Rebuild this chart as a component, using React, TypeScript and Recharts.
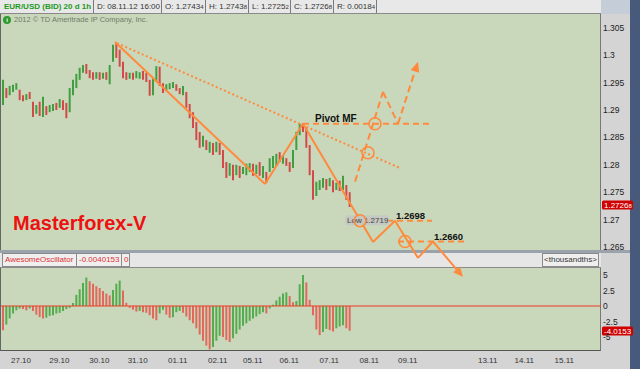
import React from 'react';
import { ComposedChart, Bar, Cell, XAxis, YAxis, ReferenceLine, ReferenceDot } from 'recharts';

const FONT = '"Liberation Sans", Arial, Helvetica, sans-serif';
const PANEL = '#c9d8bb';
const GREY = '#d4d4d4';
const ORANGE = '#ff8a3d';
const UP = '#3f9e3f';
const DOWN = '#d2494a';
const AO_UP = '#55ac4e';
const AO_DOWN = '#e0695b';

// EUR/USD 1h bars, one sample every two hours (sample i sits at hour 2i + 1)
const highs = [
  1.2955, 1.2940, 1.2944, 1.2946, 1.2949, 1.2937, 1.2927, 1.2929, 1.2933, 1.2915,
  1.2909, 1.2915, 1.2924, 1.2907, 1.2909, 1.2911, 1.2913, 1.2920, 1.2918, 1.2913,
  1.2940, 1.2955, 1.2966, 1.2977, 1.2982, 1.2984, 1.2973, 1.2969, 1.2969, 1.2969,
  1.2968, 1.2969, 1.2982, 1.3019, 1.3022, 1.3010, 1.2988, 1.2969, 1.2968, 1.2968,
  1.2971, 1.2969, 1.2971, 1.2968, 1.2955, 1.2958, 1.2980, 1.2979, 1.2949, 1.2947,
  1.2949, 1.2951, 1.2947, 1.2940, 1.2944, 1.2933, 1.2911, 1.2896, 1.2878, 1.2860,
  1.2853, 1.2845, 1.2842, 1.2840, 1.2842, 1.2840, 1.2827, 1.2805, 1.2803, 1.2800,
  1.2800, 1.2798, 1.2796, 1.2802, 1.2803, 1.2802, 1.2800, 1.2805, 1.2798, 1.2787,
  1.2812, 1.2816, 1.2820, 1.2823, 1.2818, 1.2812, 1.2805, 1.2827, 1.2860, 1.2875,
  1.2876, 1.2867, 1.2836, 1.2790, 1.2769, 1.2772, 1.2776, 1.2774, 1.2776, 1.2772,
  1.2767, 1.2771, 1.2780, 1.2763, 1.2750,
];
const lows = [
  1.2909, 1.2922, 1.2927, 1.2933, 1.2937, 1.2918, 1.2916, 1.2918, 1.2920, 1.2887,
  1.2893, 1.2889, 1.2887, 1.2891, 1.2896, 1.2898, 1.2900, 1.2904, 1.2900, 1.2885,
  1.2896, 1.2927, 1.2940, 1.2955, 1.2968, 1.2966, 1.2958, 1.2955, 1.2957, 1.2955,
  1.2957, 1.2955, 1.2947, 1.2988, 1.2995, 1.2979, 1.2958, 1.2955, 1.2957, 1.2955,
  1.2958, 1.2957, 1.2955, 1.2951, 1.2926, 1.2927, 1.2951, 1.2944, 1.2931, 1.2935,
  1.2938, 1.2940, 1.2935, 1.2929, 1.2927, 1.2904, 1.2885, 1.2867, 1.2845, 1.2831,
  1.2833, 1.2827, 1.2822, 1.2818, 1.2823, 1.2818, 1.2794, 1.2776, 1.2780, 1.2772,
  1.2781, 1.2776, 1.2783, 1.2781, 1.2787, 1.2780, 1.2783, 1.2780, 1.2776, 1.2767,
  1.2787, 1.2794, 1.2798, 1.2805, 1.2802, 1.2798, 1.2787, 1.2794, 1.2827, 1.2854,
  1.2860, 1.2831, 1.2781, 1.2736, 1.2743, 1.2754, 1.2758, 1.2754, 1.2761, 1.2750,
  1.2754, 1.2752, 1.2754, 1.2736, 1.2723,
];
const upBars = [
  1, 0, 1, 1, 1, 0, 0, 1, 0, 0,
  1, 0, 1, 0, 1, 1, 0, 1, 0, 0,
  1, 1, 1, 1, 1, 0, 0, 0, 1, 0,
  1, 0, 1, 1, 0, 0, 0, 0, 1, 0,
  1, 1, 0, 0, 0, 1, 1, 0, 0, 1,
  1, 1, 0, 0, 1, 0, 0, 0, 0, 0,
  1, 0, 1, 0, 1, 0, 0, 0, 1, 0,
  1, 0, 1, 1, 1, 0, 1, 0, 1, 0,
  1, 1, 1, 0, 1, 0, 0, 1, 1, 1,
  0, 0, 0, 0, 1, 1, 1, 0, 1, 0,
  1, 0, 1, 0, 0,
];
// Awesome Oscillator, thousandths
const aoValues = [
  -3.9, -3.0, -2.0, -1.2, -0.7, -0.4, -0.5, -0.7, -0.4, -0.8,
  -1.4, -1.8, -2.0, -1.9, -1.6, -1.5, -1.2, -1.1, -0.8, -0.5,
  -0.3, 0.5, 1.8, 2.7, 3.7, 4.6, 4.0, 3.6, 3.2, 2.9,
  2.4, 2.0, 1.7, 2.6, 3.6, 4.1, 2.5, 0.5, -0.3, -0.6,
  -0.9, -0.8, -1.0, -1.1, -1.5, -2.0, -2.3, -1.2, -0.6, -1.4,
  -1.9, -1.8, -1.0, -0.8, -1.1, -1.7, -2.3, -2.8, -3.6, -4.6,
  -5.6, -6.4, -7.0, -6.6, -5.6, -4.8, -5.0, -5.5, -5.8, -5.2,
  -4.5, -3.8, -3.2, -2.8, -2.4, -2.0, -1.7, -1.3, -1.0, -1.2,
  -0.4, 0.2, 0.9, 1.5, 2.0, 2.2, 1.6, 0.6, 0.8, 3.5,
  5.0, 3.8, 1.0, -1.5, -3.8, -4.7, -4.2, -3.7, -3.9, -4.1,
  -3.6, -3.3, -3.1, -3.6, -4.0,
];

const dateTicks = [12, 35, 59, 82, 106, 130, 151, 173, 197, 221, 244, 292, 314, 338];
const dateLabels = ['27.10', '29.10', '30.10', '31.10', '01.11', '02.11', '05.11', '06.11', '07.11', '08.11', '09.11', '13.11', '14.11', '15.11'];
const priceTicks = [1.265, 1.27, 1.275, 1.28, 1.285, 1.29, 1.295, 1.3, 1.305];
const aoTicks = [-5, -2.5, 0, 2.5, 5];

const lastPrice = 1.27268;
const lastAO = -4.0153;

// drawings, as [hour, price]
const zigzag = [[68.4, 1.3024], [158.4, 1.2765], [181.2, 1.2875], [223.2, 1.2659], [236.4, 1.2698], [250.2, 1.2630], [259.2, 1.2660], [277.2, 1.2595]];
const projection = [[212.4, 1.2769], [229.2, 1.2933], [238.2, 1.2875], [250.2, 1.2988]];
const trendline = [[69.6, 1.3022], [239.4, 1.2794]];
const levels = [
  { price: 1.2875, from: 181.2, to: 257.4, label: 'Pivot MF', at: 188.4 },
  { price: 1.2698, from: 207.6, to: 258.6, label: '1.2698', at: 237.0 },
  { price: 1.2660, from: 238.2, to: 278.4, label: '1.2660', at: 259.8 },
];
const circles = [[215.4, 1.2698], [220.2, 1.2822], [224.4, 1.2875], [242.4, 1.2660]];
const lowMark = { hour: 208.2, price: 1.2719, text: 'Low 1.2719' };

const candles = highs.map((h, i) => ({ hour: 2 * i + 1, range: [lows[i], h], up: upBars[i] === 1 }));
const aoData = aoValues.map((v, i) => ({ hour: 2 * i + 1, ao: v, up: i > 0 && v > aoValues[i - 1] }));

function arrowShape(p: any) {
  const { x1, y1, x2, y2, stroke, strokeWidth, strokeDasharray } = p;
  const a = Math.atan2(y2 - y1, x2 - x1);
  const bx = x2 - 10 * Math.cos(a);
  const by = y2 - 10 * Math.sin(a);
  const nx = -Math.sin(a) * 4.5;
  const ny = Math.cos(a) * 4.5;
  return (
    <g>
      <line x1={x1} y1={y1} x2={bx} y2={by} stroke={stroke} strokeWidth={strokeWidth} strokeDasharray={strokeDasharray} />
      <polygon points={`${x2},${y2} ${bx + nx},${by + ny} ${bx - nx},${by - ny}`} fill={stroke} />
    </g>
  );
}

function polyline(pts: number[][], key: string, dash: string | undefined, arrow: boolean) {
  return pts.slice(1).map((p, k) => (
    <ReferenceLine
      key={key + k}
      segment={[{ x: pts[k][0], y: pts[k][1] }, { x: p[0], y: p[1] }]}
      stroke={ORANGE}
      strokeWidth={2}
      strokeDasharray={dash}
      ifOverflow="visible"
      shape={arrow && k === pts.length - 2 ? arrowShape : undefined}
    />
  ));
}

const textLabel = (text: string, size: number) => (p: any) => {
  const vb = p.viewBox || { x: 0, y: 0 };
  return (
    <text x={vb.x} y={vb.y - 2} fontSize={size} fontWeight={700} fill="#111" fontFamily={FONT}>{text}</text>
  );
};

const lowLabel = (p: any) => {
  const vb = p.viewBox || { x: 0, y: 0 };
  return (
    <g>
      <rect x={vb.x - 3} y={vb.y + 6} width={44} height={10} rx={3} fill="#c4c8c4" opacity={0.9} />
      <text x={vb.x - 1} y={vb.y + 14} fontSize={8} fill="#444" fontFamily={FONT}>{lowMark.text}</text>
    </g>
  );
};

const axisTag = (main: string, sub: string) => (p: any) => {
  const vb = p.viewBox || { x: 0, y: 0 };
  return (
    <g>
      <rect x={vb.x + 1} y={vb.y - 4.5} width={31} height={9} rx={1.5} fill="#d00000" />
      <text x={vb.x + 3} y={vb.y + 3} fontSize={8} fill="#fff" fontFamily={FONT}>
        {main}
        <tspan fontSize={6}>{sub}</tspan>
      </text>
    </g>
  );
};

const headerCells = [
  { left: 0, width: 94, text: 'EUR/USD (BID) 20 d 1h', sub: '', green: true },
  { left: 94, width: 68, text: 'D: 08.11.12 16:00', sub: '' },
  { left: 162, width: 44, text: 'O: 1.2743', sub: '4' },
  { left: 206, width: 43, text: 'H: 1.2743', sub: '8' },
  { left: 249, width: 42, text: 'L: 1.2725', sub: '2' },
  { left: 291, width: 43, text: 'C: 1.2726', sub: '8' },
  { left: 334, width: 43, text: 'R: 0.0018', sub: '4' },
];

const aoCells = [
  { left: 2, width: 75, text: 'AwesomeOscillator' },
  { left: 77, width: 45, text: '-0.0040153' },
  { left: 122, width: 8, text: '0' },
];

const abs = (left: number, top: number, width: number, height: number, extra: React.CSSProperties = {}): React.CSSProperties => ({
  position: 'absolute', left, top, width, height, boxSizing: 'border-box', ...extra,
});

const xAxisProps = {
  dataKey: 'hour',
  type: 'number' as const,
  domain: [0, 360],
  allowDataOverflow: true,
};

export default function App() {
  return (
    <div style={{ position: 'relative', width: 640, height: 369, overflow: 'hidden', background: GREY, fontFamily: FONT }}>
      <style>{'body{margin:0}'}</style>

      {/* top info bar */}
      <div style={abs(0, 0, 601, 14, { background: '#e8e8e8', borderBottom: '1px solid #8a8a8a' })} />
      {headerCells.map((c) => (
        <div
          key={c.left}
          style={abs(c.left, 0, c.width, 13, {
            borderRight: '1px solid #7a7a7a',
            fontSize: 8,
            lineHeight: '13px',
            paddingLeft: c.green ? 4 : 3,
            whiteSpace: 'nowrap',
            overflow: 'hidden',
            color: c.green ? '#1c9a1c' : '#333',
            fontWeight: c.green ? 700 : 400,
          })}
        >
          {c.text}
          {c.sub && <span style={{ fontSize: 6 }}>{c.sub}</span>}
        </div>
      ))}
      <div style={abs(601, 0, 29, 14, { background: '#c4cdd8' })} />

      {/* price panel */}
      <div style={abs(0, 14, 601, 236, { background: PANEL, borderLeft: '1px solid #666', borderRight: '1px solid #777' })} />
      <div style={abs(3, 16, 8, 8, { borderRadius: 4, background: '#2f9a2f', color: '#fff', fontSize: 6, fontWeight: 700, textAlign: 'center', lineHeight: '8px' })}>i</div>
      <div style={abs(14, 15, 200, 10, { fontSize: 7.5, lineHeight: '10px', color: '#6f7d68', whiteSpace: 'nowrap' })}>
        2012 © TD Ameritrade IP Company, Inc.
      </div>
      <div style={abs(13, 211, 160, 24, { fontSize: 20, fontWeight: 700, color: '#ee1111', lineHeight: '24px', whiteSpace: 'nowrap' })}>
        Masterforex-V
      </div>

      {/* separator and oscillator header */}
      <div style={abs(0, 250, 630, 3, { background: '#9aa2ab' })} />
      <div style={abs(0, 253, 601, 15, { background: '#e6e6e6', borderBottom: '1px solid #8a8a8a' })} />
      {aoCells.map((c) => (
        <div
          key={c.left}
          style={abs(c.left, 253, c.width, 14, {
            border: '1px solid #8a8a8a',
            borderLeftWidth: c.left === 2 ? 1 : 0,
            background: '#efefef',
            fontSize: 8,
            lineHeight: '12px',
            paddingLeft: 2,
            color: '#e03030',
            whiteSpace: 'nowrap',
            overflow: 'hidden',
          })}
        >
          {c.text}
        </div>
      ))}
      <div style={abs(542, 253, 57, 14, { border: '1px solid #8a8a8a', background: '#efefef', fontSize: 8, lineHeight: '12px', textAlign: 'center', color: '#333' })}>
        {'<thousandths>'}
      </div>

      {/* oscillator panel */}
      <div style={abs(0, 268, 601, 83, { background: PANEL, borderLeft: '1px solid #666', borderRight: '1px solid #777', borderBottom: '1px solid #555' })} />

      {/* right frame strip */}
      <div style={abs(630, 0, 10, 369, { background: '#475a7c' })} />

      <div style={abs(0, 268, 640, 101, { zIndex: 1 })}>
        <ComposedChart width={640} height={101} data={aoData} margin={{ top: 0, right: 10, bottom: 0, left: 1 }}>
          <XAxis
            {...xAxisProps}
            ticks={dateTicks}
            interval={0}
            height={19}
            tickLine={false}
            axisLine={false}
            tickSize={0}
            tickMargin={7}
            tick={{ fontSize: 8, fill: '#333', fontFamily: FONT }}
            tickFormatter={(v: number) => dateLabels[dateTicks.indexOf(v)] ?? ''}
          />
          <YAxis
            orientation="right"
            width={29}
            type="number"
            domain={[-7.1, 6.13]}
            allowDataOverflow
            ticks={aoTicks}
            interval={0}
            tickLine={false}
            axisLine={false}
            tickSize={0}
            tickMargin={2}
            tick={{ fontSize: 8.5, fill: '#222', fontFamily: FONT }}
          />
          <Bar dataKey="ao" barSize={2} isAnimationActive={false}>
            {aoData.map((d, i) => (
              <Cell key={i} fill={d.up ? AO_UP : AO_DOWN} />
            ))}
          </Bar>
          <ReferenceLine y={0} stroke="#f03a28" strokeWidth={1} />
          <ReferenceDot x={360} y={lastAO} r={0} fill="none" stroke="none" ifOverflow="visible" label={axisTag('-4.0153', '')} />
        </ComposedChart>
      </div>

      <div style={abs(0, 0, 640, 300, { zIndex: 3, pointerEvents: 'none' })}>
        <ComposedChart width={640} height={300} data={candles} margin={{ top: 14, right: 10, bottom: 50, left: 1 }}>
          <XAxis {...xAxisProps} hide />
          <YAxis
            orientation="right"
            width={29}
            type="number"
            domain={[1.26445, 1.30752]}
            allowDataOverflow
            ticks={priceTicks}
            interval={0}
            tickLine={false}
            axisLine={false}
            tickSize={0}
            tickMargin={2}
            tick={{ fontSize: 8.5, fill: '#222', fontFamily: FONT }}
            tickFormatter={(v: number) => String(+v.toFixed(3))}
          />
          <Bar dataKey="range" barSize={2} isAnimationActive={false}>
            {candles.map((d, i) => (
              <Cell key={i} fill={d.up ? UP : DOWN} />
            ))}
          </Bar>
          {polyline(trendline, 't', '2 2.5', false)}
          {levels.map((l) => (
            <ReferenceLine
              key={l.label}
              segment={[{ x: l.from, y: l.price }, { x: l.to, y: l.price }]}
              stroke={ORANGE}
              strokeWidth={2}
              strokeDasharray="6 4"
              ifOverflow="visible"
            />
          ))}
          {polyline(projection, 'p', '7 4', true)}
          {polyline(zigzag, 'z', undefined, true)}
          <ReferenceDot x={lowMark.hour} y={lowMark.price} r={0} fill="none" stroke="none" ifOverflow="visible" label={lowLabel} />
          {circles.map((c, i) => (
            <ReferenceDot key={'c' + i} x={c[0]} y={c[1]} r={6} fill="none" stroke={ORANGE} strokeWidth={1.6} ifOverflow="visible" />
          ))}
          {levels.map((l) => (
            <ReferenceDot key={'l' + l.label} x={l.at} y={l.price} r={0} fill="none" stroke="none" ifOverflow="visible" label={textLabel(l.label, l.label === 'Pivot MF' ? 10 : 9.5)} />
          ))}
          <ReferenceDot x={360} y={lastPrice} r={0} fill="none" stroke="none" ifOverflow="visible" label={axisTag('1.2726', '8')} />
        </ComposedChart>
      </div>
    </div>
  );
}
